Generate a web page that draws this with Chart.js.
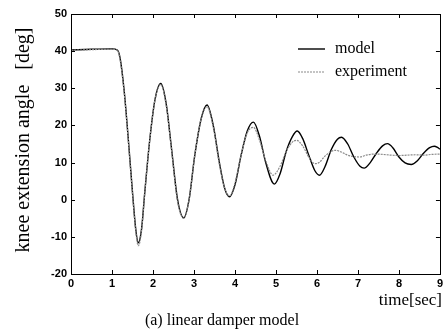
<!DOCTYPE html>
<html><head><meta charset="utf-8">
<script src="https://cdn.jsdelivr.net/npm/chart.js@4/dist/chart.umd.min.js"></script>
<style>html,body{margin:0;padding:0;background:#fff}#wrap{width:446px;height:330px}</style>
</head><body><div id="wrap"><canvas id="c" width="446" height="330"></canvas></div>
<script>
const modelTime  = [0,0.5,1.0,1.13,1.2,1.3,1.4,1.5,1.58,1.64,1.72,1.8,1.92,2.05,2.19,2.32,2.45,2.6,2.75,2.88,3.02,3.18,3.32,3.47,3.62,3.75,3.87,4.0,4.15,4.3,4.45,4.6,4.75,4.96,5.1,5.25,5.4,5.52,5.65,5.8,5.95,6.06,6.2,6.35,6.5,6.6,6.75,6.9,7.05,7.15,7.3,7.45,7.6,7.72,7.85,8.0,8.15,8.3,8.45,8.6,8.75,8.86,8.95,9.0];
const modelAngle = [40.3,40.5,40.6,40.3,38,29,16,2,-8,-11.6,-8,2,16,27,31.3,26,14,0,-4.9,0,12,22,25.5,20,10,3,0.8,4,12,18.5,20.9,17,10,4.2,7,13,17,18.5,16.5,12,7.8,6.6,9,13.5,16.3,16.8,15,11.5,9,8.5,10,12.5,14.5,15.1,14,11.5,9.9,9.5,10.5,12.5,14,14.4,14,13.6];
const expTime    = [0,0.5,1.0,1.13,1.2,1.3,1.4,1.5,1.58,1.64,1.72,1.8,1.92,2.05,2.19,2.32,2.45,2.6,2.75,2.88,3.02,3.18,3.32,3.47,3.62,3.75,3.87,4.0,4.15,4.3,4.45,4.6,4.75,4.93,5.1,5.25,5.4,5.5,5.65,5.8,5.95,6.05,6.2,6.35,6.45,6.6,6.75,6.9,7.05,7.2,7.4,7.6,7.8,8.0,8.2,8.4,8.6,8.8,9.0];
const expAngle   = [40.2,40.4,40.5,40.2,37.5,28.5,15.5,1.5,-8.5,-12.4,-8.5,2,16,27,31,25.5,13.5,-0.5,-5,0,12,22,25,19.5,9.5,3,1,4.5,12,18,19.5,16,10.5,6.6,9,13,15.5,16,14.5,11.5,9.7,10,11.8,13,13.3,12.8,12,11.6,11.5,12,12.3,12.2,12,11.9,12,12.1,12,12.2,12.3];
const xTicks = [0,1,2,3,4,5,6,7,8,9];
const yTicks = [-20,-10,0,10,20,30,40,50];
const seriesNames = ['model','experiment'];
const yTitle = 'knee extension angle   [deg]';
const xTitle = 'time[sec]';
const caption = '(a) linear damper model';

const toXY = (t, v) => t.map((x, i) => ({x, y: v[i]}));
const serif = '"Liberation Serif", "Times New Roman", serif';

const decor = {
  id: 'decor',
  afterDraw(chart) {
    const {ctx, chartArea: a, scales: {x, y}} = chart;
    ctx.save();
    ctx.strokeStyle = '#000';
    ctx.lineWidth = 1;
    ctx.strokeRect(Math.round(a.left) + 0.5, Math.round(a.top) + 0.5, Math.round(a.right - a.left), Math.round(a.bottom - a.top));
    ctx.beginPath();
    xTicks.forEach(t => {
      const px = Math.round(x.getPixelForValue(t)) + 0.5;
      ctx.moveTo(px, a.bottom); ctx.lineTo(px, a.bottom - 4);
      ctx.moveTo(px, a.top); ctx.lineTo(px, a.top + 4);
    });
    yTicks.forEach(t => {
      const py = Math.round(y.getPixelForValue(t)) + 0.5;
      ctx.moveTo(a.left, py); ctx.lineTo(a.left + 4, py);
      ctx.moveTo(a.right, py); ctx.lineTo(a.right - 4, py);
    });
    ctx.stroke();
    // legend
    const lx0 = 298, lx1 = 325;
    const byName = n => chart.data.datasets.find(d => d.label === n);
    const rows = [{y: 49, ds: byName(seriesNames[0])}, {y: 72, ds: byName(seriesNames[1])}];
    ctx.font = '16px ' + serif;
    ctx.textBaseline = 'middle';
    ctx.fillStyle = '#000';
    rows.forEach(r => {
      ctx.beginPath();
      ctx.strokeStyle = r.ds.borderColor;
      ctx.lineWidth = r.ds.borderWidth;
      ctx.setLineDash(r.ds.borderDash || []);
      ctx.moveTo(lx0, r.y); ctx.lineTo(lx1, r.y);
      ctx.stroke();
      ctx.setLineDash([]);
      ctx.fillText(r.ds.label, 335, r.y);
    });
    // titles
    ctx.font = '17px ' + serif;
    ctx.textAlign = 'right';
    ctx.textBaseline = 'alphabetic';
    ctx.fillText(xTitle, 442, 305);
    ctx.textAlign = 'center';
    ctx.font = '16px ' + serif;
    ctx.fillText(caption, 222, 325);
    ctx.translate(24, 140);
    ctx.rotate(-Math.PI / 2);
    ctx.font = '20px ' + serif;
    ctx.textBaseline = 'middle';
    ctx.fillText(yTitle, 0, 0);
    ctx.restore();
  }
};

new Chart(document.getElementById('c'), {
  type: 'line',
  data: {
    datasets: [
      {label: seriesNames[1], data: toXY(expTime, expAngle), borderColor: '#8a8a8a', borderWidth: 1.2, borderDash: [2, 1], pointRadius: 0, cubicInterpolationMode: 'monotone', fill: false},
      {label: seriesNames[0], data: toXY(modelTime, modelAngle), borderColor: '#000', borderWidth: 1.4, pointRadius: 0, cubicInterpolationMode: 'monotone', fill: false}
    ]
  },
  options: {
    responsive: false,
    animation: false,
    events: [],
    layout: {padding: {top: 14, right: 5, left: 0, bottom: 0}},
    plugins: {legend: {display: false}, tooltip: {enabled: false}},
    scales: {
      x: {
        type: 'linear', min: 0, max: 9,
        afterFit(s) { s.height = 56; },
        afterBuildTicks(s) { s.ticks = xTicks.map(v => ({value: v})); },
        grid: {display: false, drawTicks: false},
        border: {display: false},
        ticks: {color: '#000', font: {family: '"Liberation Sans", Arial, sans-serif', size: 11, weight: 'bold'}, padding: 3, maxRotation: 0}
      },
      y: {
        type: 'linear', min: -20, max: 50,
        afterFit(s) { s.width = 71; },
        afterBuildTicks(s) { s.ticks = yTicks.map(v => ({value: v})); },
        grid: {display: false, drawTicks: false},
        border: {display: false},
        ticks: {color: '#000', font: {family: '"Liberation Sans", Arial, sans-serif', size: 11, weight: 'bold'}, padding: 4}
      }
    }
  },
  plugins: [decor]
});
</script></body></html>
